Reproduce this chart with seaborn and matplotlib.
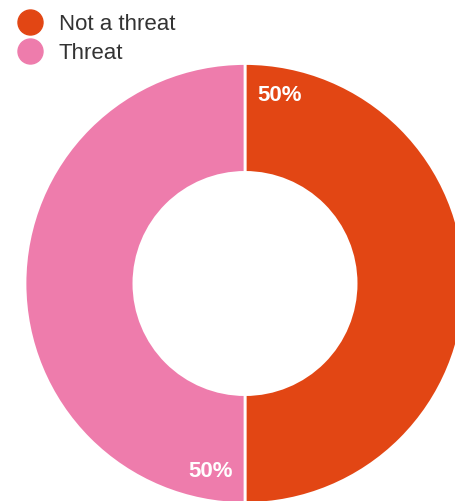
import numpy as np
import matplotlib
matplotlib.use("Agg")
import matplotlib.pyplot as plt
from matplotlib.lines import Line2D
import seaborn as sns

categories = ["Not a threat", "Threat"]
values = [50, 50]
label_texts = ["50%", "50%"]
colors = ["#E24614", "#EE7CAC"]

sns.set_theme(style="white")
plt.rcParams['font.family'] = ['Liberation Sans', 'DejaVu Sans']

W, H = 456, 501
fig = plt.figure(figsize=(W / 100, H / 100), dpi=100)
fig.patch.set_facecolor("white")

# donut centre (245, 283.5) px from top, outer radius 220 px
cx, cy, R = 245, 283.5, 220
ax = fig.add_axes([(cx - R) / W, (H - cy - R) / H, 2 * R / W, 2 * R / H])

wedges, _ = ax.pie(values, colors=colors, startangle=90, counterclock=False,
                   radius=1, wedgeprops=dict(width=0.495, edgecolor="white", linewidth=2))
ax.set_xlim(-1, 1)
ax.set_ylim(-1, 1)
ax.set_aspect("equal")
ax.axis("off")
for w in wedges:
    w.set_clip_on(False)

# labels near outer edge, offset ~10.5 deg from the vertical split
total = sum(values)
start = 90.0
for v, txt in zip(values, label_texts):
    end = start - 360.0 * v / total
    ang = np.deg2rad(start - 10.5)
    r = 0.87
    ax.text(r * np.cos(ang), r * np.sin(ang), txt, color="white", fontsize=16,
            fontweight="bold", ha="center", va="center")
    start = end

handles = [Line2D([0], [0], marker="o", linestyle="none", markersize=18,
                  markerfacecolor=c, markeredgecolor=c) for c in colors]
leg = fig.legend(handles, categories, loc="upper left",
                 bbox_to_anchor=(9 / W, 1 - 6 / H),
                 frameon=False, fontsize=16, handletextpad=0.68, labelspacing=0.38,
                 borderaxespad=0.0, borderpad=0.35, handlelength=1.2)
for t in leg.get_texts():
    t.set_color("#333333")

fig.savefig("out.png", dpi=100, facecolor="white")
